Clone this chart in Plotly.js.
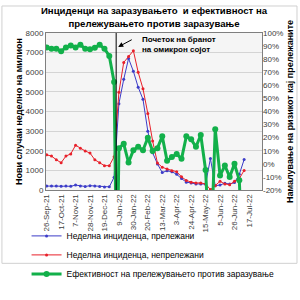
<!DOCTYPE html>
<html>
<head>
<meta charset="utf-8">
<script src="https://cdn.plot.ly/plotly-3.0.1.min.js"></script>
<style>html,body{margin:0;padding:0;background:#fff}#chart{width:300px;height:300px}</style>
</head>
<body>
<div id="chart"></div>
<script>
const weeks = ['2021-09-26','2021-10-03','2021-10-10','2021-10-17','2021-10-24','2021-10-31','2021-11-07','2021-11-14','2021-11-21','2021-11-28','2021-12-05','2021-12-12','2021-12-19','2021-12-26','2022-01-02','2022-01-09','2022-01-16','2022-01-23','2022-01-30','2022-02-06','2022-02-13','2022-02-20','2022-02-27','2022-03-06','2022-03-13','2022-03-20','2022-03-27','2022-04-03','2022-04-10','2022-04-17','2022-04-24','2022-05-01','2022-05-08','2022-05-15','2022-05-22','2022-05-29','2022-06-05','2022-06-12','2022-06-19','2022-06-26','2022-07-03','2022-07-10'];
const blueIncidence = [200,200,200,190,200,190,250,210,180,220,200,180,150,160,650,4400,5640,6700,6050,5240,4620,3000,1900,1330,890,980,930,800,580,400,360,310,310,300,1600,220,250,350,300,380,800,1550];
const redIncidence = [1790,1730,1540,1390,1730,1840,2280,2130,1990,1880,1540,1390,1240,1240,1690,4980,6500,6800,7100,6000,5160,3900,2500,1380,1160,1070,980,930,670,490,400,360,360,310,20,220,440,310,270,440,580,1000];
const greenDates = ['2021-09-26','2021-10-03','2021-10-10','2021-10-17','2021-10-24','2021-10-31','2021-11-07','2021-11-14','2021-11-21','2021-11-28','2021-12-05','2021-12-12','2021-12-19','2021-12-26','2022-01-02','2022-01-06','2022-01-09','2022-01-16','2022-01-23','2022-01-30','2022-02-06','2022-02-13','2022-02-20','2022-02-27','2022-03-06','2022-03-13','2022-03-20','2022-03-27','2022-04-03','2022-04-10','2022-04-17','2022-04-24','2022-05-01','2022-05-08','2022-05-15','2022-05-22','2022-05-29','2022-06-05','2022-06-12','2022-06-19','2022-06-26','2022-07-03','2022-07-10'];
const greenEffectiveness = [89,88,88,86,89,90.5,89,91,88,87.5,88.7,91,88,82.5,62.5,-100,12,15.3,1,10.4,13,10.4,20,9.8,12,21,2.4,5.3,7.6,3.8,21,18.7,13,22,-4.7,-80,26.5,-9,-1.3,-10,0,-12.5,-100];
const xTickDates = ['2021-09-26','2021-10-17','2021-11-07','2021-11-28','2021-12-19','2022-01-09','2022-01-30','2022-02-20','2022-03-13','2022-04-03','2022-04-24','2022-05-15','2022-06-05','2022-06-26','2022-07-17'];
const leftTicks = [0,1000,2000,3000,4000,5000,6000,7000,8000];
const rightTickVals = [-20,-10,0,10,20,30,40,50,60,70,80,90,100];
const rightTickText = ['-20%','-10%','0%','10%','20%','30%','40%','50%','60%','70%','80%','90%','100%'];
const seriesNames = ['Неделна инциденца, прележани','Неделна инциденца, непрележани','Ефективност на прележувањето против заразување'];
const omicronStart = '2022-01-05';
const FONT = 'Liberation Sans, Arial, sans-serif';

const traces = [
  {x: weeks, y: blueIncidence, name: seriesNames[0], type: 'scatter', mode: 'lines+markers',
   line: {color: '#3c3cc8', width: 1}, marker: {color: '#3c3cc8', size: 3}, yaxis: 'y'},
  {x: weeks, y: redIncidence, name: seriesNames[1], type: 'scatter', mode: 'lines+markers',
   line: {color: '#e8202a', width: 1}, marker: {color: '#e8202a', size: 3}, yaxis: 'y'},
  {x: greenDates, y: greenEffectiveness, name: seriesNames[2], type: 'scatter', mode: 'lines+markers',
   line: {color: '#12b04a', width: 3}, marker: {color: '#12b04a', size: 6}, yaxis: 'y2'}
];

const layout = {
  width: 300, height: 300,
  margin: {l: 46, r: 38, t: 33, b: 87, pad: 0},
  paper_bgcolor: '#ffffff', plot_bgcolor: '#f5f5f5',
  font: {family: FONT, color: '#404040'},
  showlegend: true,
  title: {text: '<b>Инциденци на заразувањето  и ефективност на<br>прележувањето против заразување</b>',
          font: {family: FONT, size: 9.6, color: '#000'}, x: 0.5, xanchor: 'center', xref: 'paper',
          y: 0.952, yanchor: 'middle', yref: 'container'},
  xaxis: {type: 'date', range: ['2021-09-25', '2022-08-05'], tickmode: 'array', tickvals: xTickDates,
          tickformat: '%-d-%b-%y', tickangle: -90, tickfont: {size: 8, color: '#404040'},
          showline: true, linecolor: '#7f7f7f', linewidth: 1, mirror: true, showgrid: false, zeroline: false,
          ticks: '', fixedrange: true},
  yaxis: {range: [0, 8000], tickmode: 'array', tickvals: leftTicks, tickformat: 'd',
          tickfont: {size: 8, color: '#404040'}, showgrid: true, gridcolor: '#d4d4d4', gridwidth: 1,
          showline: true, linecolor: '#7f7f7f', mirror: true, zeroline: false, ticks: '',
          title: {text: '<b>Нови случаи неделно на милион</b>', font: {size: 9, color: '#000'}, standoff: 1}},
  yaxis2: {range: [-20, 100], overlaying: 'y', side: 'right', tickmode: 'array', tickvals: rightTickVals,
           ticktext: rightTickText, tickfont: {size: 8, color: '#404040'}, showgrid: false, zeroline: false,
           showline: false, ticks: '',
           title: {text: '<b>Намалување на ризикот кај прележаните</b>', font: {size: 9, color: '#000'}, standoff: 4}},
  legend: {orientation: 'v', x: -0.09, xanchor: 'left', y: -0.2, yanchor: 'top',
           font: {size: 8.5, color: '#000'}, bgcolor: 'rgba(0,0,0,0)', tracegroupgap: 0, itemwidth: 30},
  shapes: [
    {type: 'line', xref: 'x', yref: 'paper', x0: omicronStart, x1: omicronStart, y0: 0, y1: 1,
     line: {color: '#000', width: 1}},
    {type: 'rect', xref: 'paper', yref: 'paper', x0: -0.204, x1: 1.162, y0: -0.467, y1: 1.172,
     line: {color: '#d0d0d0', width: 1}}
  ],
  annotations: [
    {xref: 'paper', yref: 'paper', x: 0.435, y: 1.0, xanchor: 'left', yanchor: 'top', align: 'left',
     text: '<b>Почеток на бранот<br>на омикрон сојот</b>', showarrow: false,
     font: {size: 8, color: '#000', family: FONT}},
    {xref: 'x', yref: 'y', x: '2022-01-08', y: 7290, text: '', showarrow: true,
     ax: 15, ay: -8, arrowhead: 2, arrowsize: 1, arrowwidth: 1, arrowcolor: '#000'}
  ]
};

Plotly.newPlot('chart', traces, layout, {staticPlot: true, displayModeBar: false});
</script>
</body>
</html>
